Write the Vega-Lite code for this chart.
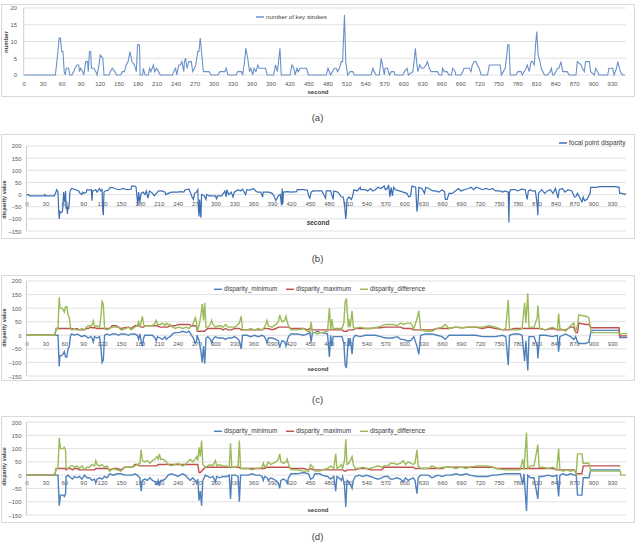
{
  "$schema": "https://vega.github.io/schema/vega-lite/v6.json",
  "background": "white",
  "padding": {"left": 0, "top": 3, "right": 0, "bottom": 0},
  "spacing": 10,
  "config": {
    "font": "Liberation Sans",
    "view": {"stroke": "#d9d9d9", "strokeWidth": 1},
    "axis": {"labelColor": "#595959", "titleColor": "#404040", "labelFontSize": 5.8, "grid": false, "ticks": false, "tickSize": 0, "domain": false, "labelFlush": false, "labelOverlap": false},
    "legend": {"labelColor": "#404040", "labelFontSize": 6.5, "padding": 0, "labelOffset": 1, "symbolType": "stroke", "symbolSize": 64, "symbolStrokeWidth": 1.5}
  },
  "resolve": {"scale": {"x": "independent", "y": "independent", "color": "independent"}},
  "datasets": {
    "gA": [{"g": 0}, {"g": 5}, {"g": 10}, {"g": 15}, {"g": 20}],
    "gD": [{"g": -150}, {"g": -100}, {"g": -50}, {"g": 0}, {"g": 50}, {"g": 100}, {"g": 150}, {"g": 200}],
    "ks": [
      {"t":0,"v":0},{"t":50,"v":0},{"t":53,"v":5},{"t":56,"v":11},{"t":58,"v":11},{"t":60,"v":7},{"t":62,"v":7},{"t":64,"v":1},{"t":66,"v":0},{"t":67,"v":2},{"t":71,"v":2},{"t":73,"v":0},{"t":76,"v":0},{"t":79,"v":1},{"t":81,"v":2},{"t":84,"v":3},{"t":87,"v":3},{"t":88,"v":1},{"t":90,"v":2},{"t":93,"v":1},{"t":95,"v":0},{"t":98,"v":4},{"t":101,"v":4},{"t":102,"v":1},{"t":104,"v":7},{"t":106,"v":7},{"t":107,"v":2},{"t":111,"v":2},{"t":114,"v":1},{"t":116,"v":0},{"t":119,"v":3},{"t":121,"v":6},{"t":125,"v":5},{"t":127,"v":0},{"t":135,"v":0},{"t":137,"v":1},{"t":140,"v":2},{"t":144,"v":1},{"t":147,"v":0},{"t":153,"v":0},{"t":156,"v":1},{"t":159,"v":1},{"t":162,"v":3},{"t":165,"v":4},{"t":168,"v":7},{"t":171,"v":4},{"t":175,"v":3},{"t":178,"v":1},{"t":180,"v":9},{"t":183,"v":9},{"t":184,"v":0},{"t":188,"v":0},{"t":189,"v":2},{"t":192,"v":0},{"t":197,"v":0},{"t":199,"v":2},{"t":201,"v":1},{"t":203,"v":2},{"t":205,"v":3},{"t":207,"v":1},{"t":210,"v":2},{"t":213,"v":1},{"t":216,"v":0},{"t":235,"v":0},{"t":237,"v":1},{"t":240,"v":2},{"t":242,"v":0},{"t":245,"v":3},{"t":248,"v":3},{"t":250,"v":4},{"t":253,"v":1},{"t":254,"v":4},{"t":256,"v":5},{"t":258,"v":2},{"t":261,"v":4},{"t":265,"v":4},{"t":267,"v":1},{"t":270,"v":2},{"t":272,"v":3},{"t":275,"v":7},{"t":277,"v":7},{"t":279,"v":11},{"t":281,"v":7},{"t":284,"v":1},{"t":289,"v":1},{"t":293,"v":1},{"t":296,"v":0},{"t":307,"v":0},{"t":310,"v":1},{"t":318,"v":1},{"t":320,"v":2},{"t":323,"v":0},{"t":336,"v":0},{"t":338,"v":1},{"t":344,"v":1},{"t":346,"v":0},{"t":349,"v":4},{"t":351,"v":8},{"t":354,"v":5},{"t":357,"v":1},{"t":359,"v":2},{"t":362,"v":0},{"t":364,"v":2},{"t":367,"v":1},{"t":370,"v":3},{"t":372,"v":2},{"t":379,"v":2},{"t":382,"v":2},{"t":385,"v":0},{"t":395,"v":0},{"t":398,"v":3},{"t":401,"v":1},{"t":405,"v":8},{"t":407,"v":0},{"t":421,"v":0},{"t":424,"v":3},{"t":427,"v":2},{"t":429,"v":0},{"t":432,"v":2},{"t":434,"v":1},{"t":437,"v":2},{"t":447,"v":2},{"t":450,"v":0},{"t":470,"v":0},{"t":478,"v":0},{"t":481,"v":2},{"t":485,"v":0},{"t":488,"v":1},{"t":491,"v":2},{"t":494,"v":2},{"t":496,"v":1},{"t":499,"v":2},{"t":502,"v":4},{"t":504,"v":4},{"t":507,"v":18},{"t":509,"v":4},{"t":512,"v":0},{"t":516,"v":1},{"t":520,"v":1},{"t":523,"v":0},{"t":549,"v":0},{"t":552,"v":2},{"t":554,"v":1},{"t":557,"v":0},{"t":562,"v":0},{"t":565,"v":5},{"t":567,"v":3},{"t":570,"v":0},{"t":571,"v":2},{"t":575,"v":2},{"t":578,"v":0},{"t":581,"v":1},{"t":585,"v":1},{"t":587,"v":0},{"t":599,"v":0},{"t":602,"v":1},{"t":606,"v":2},{"t":608,"v":0},{"t":615,"v":1},{"t":617,"v":4},{"t":619,"v":8},{"t":621,"v":4},{"t":623,"v":1},{"t":626,"v":3},{"t":629,"v":2},{"t":632,"v":2},{"t":636,"v":3},{"t":638,"v":4},{"t":641,"v":2},{"t":644,"v":1},{"t":654,"v":1},{"t":657,"v":0},{"t":661,"v":0},{"t":662,"v":2},{"t":665,"v":1},{"t":669,"v":1},{"t":672,"v":0},{"t":676,"v":0},{"t":678,"v":2},{"t":682,"v":1},{"t":683,"v":0},{"t":691,"v":0},{"t":694,"v":1},{"t":696,"v":2},{"t":704,"v":2},{"t":707,"v":1},{"t":709,"v":3},{"t":712,"v":4},{"t":715,"v":4},{"t":717,"v":3},{"t":720,"v":2},{"t":723,"v":0},{"t":733,"v":0},{"t":736,"v":3},{"t":749,"v":3},{"t":753,"v":3},{"t":755,"v":0},{"t":758,"v":1},{"t":761,"v":2},{"t":763,"v":5},{"t":765,"v":9},{"t":767,"v":9},{"t":769,"v":0},{"t":778,"v":0},{"t":781,"v":1},{"t":786,"v":1},{"t":788,"v":0},{"t":794,"v":2},{"t":796,"v":3},{"t":799,"v":1},{"t":802,"v":4},{"t":804,"v":4},{"t":807,"v":3},{"t":809,"v":9},{"t":811,"v":13},{"t":813,"v":6},{"t":816,"v":4},{"t":818,"v":2},{"t":823,"v":0},{"t":828,"v":0},{"t":832,"v":1},{"t":834,"v":2},{"t":836,"v":0},{"t":838,"v":0},{"t":841,"v":1},{"t":844,"v":2},{"t":846,"v":2},{"t":849,"v":4},{"t":852,"v":1},{"t":859,"v":1},{"t":862,"v":0},{"t":873,"v":0},{"t":875,"v":4},{"t":881,"v":3},{"t":883,"v":2},{"t":886,"v":1},{"t":888,"v":4},{"t":894,"v":4},{"t":896,"v":1},{"t":902,"v":0},{"t":904,"v":2},{"t":907,"v":1},{"t":909,"v":0},{"t":923,"v":0},{"t":925,"v":2},{"t":931,"v":2},{"t":933,"v":0},{"t":937,"v":2},{"t":939,"v":4},{"t":943,"v":1},{"t":946,"v":0},{"t":950,"v":0}
    ],
    "fpd": [
      {"t":0,"v":0},{"t":3,"v":0},{"t":5,"v":-5},{"t":28,"v":-5},{"t":29,"v":0},{"t":30,"v":-5},{"t":44,"v":-5},{"t":46,"v":5},{"t":48,"v":20},{"t":50,"v":10},{"t":51,"v":-60},{"t":52,"v":-100},{"t":53,"v":-70},{"t":55,"v":-75},{"t":57,"v":-70},{"t":58,"v":-40},{"t":59,"v":10},{"t":60,"v":-20},{"t":61,"v":-30},{"t":62,"v":15},{"t":63,"v":-60},{"t":64,"v":-45},{"t":65,"v":-80},{"t":66,"v":-50},{"t":67,"v":-60},{"t":68,"v":-30},{"t":69,"v":10},{"t":70,"v":20},{"t":72,"v":25},{"t":78,"v":20},{"t":83,"v":15},{"t":85,"v":5},{"t":88,"v":0},{"t":89,"v":10},{"t":92,"v":5},{"t":95,"v":10},{"t":96,"v":20},{"t":100,"v":18},{"t":103,"v":20},{"t":104,"v":-25},{"t":105,"v":15},{"t":110,"v":20},{"t":112,"v":10},{"t":116,"v":25},{"t":118,"v":15},{"t":120,"v":20},{"t":121,"v":-60},{"t":122,"v":-85},{"t":123,"v":10},{"t":125,"v":15},{"t":130,"v":18},{"t":133,"v":30},{"t":138,"v":28},{"t":140,"v":25},{"t":146,"v":20},{"t":150,"v":22},{"t":153,"v":25},{"t":160,"v":20},{"t":166,"v":22},{"t":167,"v":35},{"t":172,"v":35},{"t":174,"v":30},{"t":175,"v":0},{"t":177,"v":-45},{"t":178,"v":10},{"t":180,"v":-30},{"t":182,"v":5},{"t":185,"v":10},{"t":188,"v":0},{"t":190,"v":15},{"t":193,"v":-15},{"t":195,"v":15},{"t":198,"v":10},{"t":200,"v":5},{"t":203,"v":-5},{"t":206,"v":5},{"t":210,"v":15},{"t":215,"v":15},{"t":220,"v":10},{"t":221,"v":0},{"t":225,"v":5},{"t":230,"v":10},{"t":240,"v":10},{"t":245,"v":12},{"t":250,"v":10},{"t":252,"v":20},{"t":258,"v":22},{"t":260,"v":10},{"t":263,"v":-10},{"t":265,"v":-20},{"t":267,"v":5},{"t":270,"v":10},{"t":272,"v":20},{"t":273,"v":-60},{"t":274,"v":-90},{"t":275,"v":-20},{"t":276,"v":-70},{"t":277,"v":-95},{"t":278,"v":0},{"t":282,"v":-5},{"t":285,"v":-20},{"t":286,"v":0},{"t":290,"v":-5},{"t":300,"v":-5},{"t":302,"v":-20},{"t":303,"v":-5},{"t":310,"v":-5},{"t":315,"v":15},{"t":317,"v":-10},{"t":318,"v":20},{"t":321,"v":0},{"t":325,"v":10},{"t":328,"v":-10},{"t":330,"v":10},{"t":336,"v":20},{"t":340,"v":15},{"t":343,"v":22},{"t":348,"v":0},{"t":350,"v":20},{"t":355,"v":18},{"t":360,"v":25},{"t":364,"v":15},{"t":367,"v":10},{"t":372,"v":10},{"t":375,"v":-10},{"t":376,"v":10},{"t":385,"v":10},{"t":390,"v":5},{"t":393,"v":-5},{"t":396,"v":-25},{"t":398,"v":-15},{"t":400,"v":-5},{"t":403,"v":0},{"t":405,"v":-45},{"t":406,"v":25},{"t":407,"v":-40},{"t":408,"v":10},{"t":415,"v":12},{"t":420,"v":10},{"t":429,"v":12},{"t":430,"v":20},{"t":440,"v":20},{"t":446,"v":18},{"t":448,"v":-5},{"t":450,"v":-15},{"t":452,"v":10},{"t":455,"v":15},{"t":462,"v":15},{"t":469,"v":15},{"t":475,"v":-15},{"t":476,"v":15},{"t":483,"v":15},{"t":487,"v":-20},{"t":488,"v":15},{"t":494,"v":10},{"t":496,"v":5},{"t":500,"v":-10},{"t":503,"v":-10},{"t":505,"v":-40},{"t":507,"v":-100},{"t":508,"v":-70},{"t":509,"v":-20},{"t":512,"v":-10},{"t":516,"v":-20},{"t":518,"v":-5},{"t":520,"v":20},{"t":525,"v":15},{"t":530,"v":30},{"t":531,"v":20},{"t":538,"v":20},{"t":542,"v":15},{"t":546,"v":25},{"t":550,"v":15},{"t":554,"v":20},{"t":558,"v":30},{"t":563,"v":25},{"t":568,"v":35},{"t":570,"v":20},{"t":573,"v":25},{"t":575,"v":40},{"t":577,"v":-10},{"t":579,"v":30},{"t":581,"v":-5},{"t":583,"v":30},{"t":586,"v":20},{"t":592,"v":15},{"t":598,"v":10},{"t":604,"v":5},{"t":607,"v":-10},{"t":610,"v":-5},{"t":612,"v":35},{"t":618,"v":30},{"t":620,"v":-70},{"t":622,"v":-20},{"t":623,"v":30},{"t":628,"v":25},{"t":632,"v":5},{"t":634,"v":30},{"t":639,"v":25},{"t":645,"v":15},{"t":650,"v":15},{"t":655,"v":10},{"t":660,"v":20},{"t":664,"v":10},{"t":665,"v":-20},{"t":668,"v":-20},{"t":671,"v":5},{"t":676,"v":5},{"t":681,"v":15},{"t":686,"v":25},{"t":690,"v":15},{"t":695,"v":20},{"t":702,"v":25},{"t":706,"v":30},{"t":710,"v":20},{"t":714,"v":30},{"t":720,"v":25},{"t":724,"v":20},{"t":730,"v":25},{"t":735,"v":20},{"t":740,"v":25},{"t":745,"v":15},{"t":752,"v":15},{"t":756,"v":10},{"t":760,"v":15},{"t":765,"v":10},{"t":766,"v":-115},{"t":767,"v":10},{"t":769,"v":20},{"t":776,"v":20},{"t":780,"v":15},{"t":786,"v":22},{"t":792,"v":20},{"t":795,"v":-20},{"t":797,"v":15},{"t":800,"v":20},{"t":803,"v":15},{"t":808,"v":15},{"t":811,"v":-40},{"t":812,"v":-85},{"t":813,"v":5},{"t":818,"v":20},{"t":823,"v":5},{"t":827,"v":15},{"t":832,"v":20},{"t":836,"v":5},{"t":840,"v":25},{"t":844,"v":-15},{"t":846,"v":20},{"t":851,"v":25},{"t":855,"v":10},{"t":860,"v":20},{"t":866,"v":15},{"t":870,"v":-10},{"t":872,"v":-10},{"t":875,"v":5},{"t":878,"v":-10},{"t":882,"v":-30},{"t":884,"v":-10},{"t":886,"v":-25},{"t":890,"v":-20},{"t":893,"v":-5},{"t":895,"v":5},{"t":896,"v":30},{"t":905,"v":30},{"t":910,"v":33},{"t":935,"v":33},{"t":941,"v":30},{"t":942,"v":5},{"t":946,"v":5},{"t":950,"v":0},{"t":952,"v":5}
    ],
    "dc": [
      {"t":0,"mn":0,"mx":0,"df":0},{"t":45,"mn":0,"mx":0,"df":0},{"t":47,"mn":0,"mx":25,"df":25},{"t":50,"mn":0,"mx":25,"df":25},{"t":51,"mn":-60,"mx":25,"df":85},{"t":52,"mn":-115,"mx":25,"df":140},{"t":53,"mn":-75,"mx":25,"df":100},{"t":56,"mn":-75,"mx":25,"df":100},{"t":58,"mn":-70,"mx":25,"df":95},{"t":60,"mn":-60,"mx":25,"df":85},{"t":62,"mn":-80,"mx":25,"df":105},{"t":64,"mn":-80,"mx":25,"df":105},{"t":66,"mn":-50,"mx":25,"df":75},{"t":68,"mn":-40,"mx":25,"df":65},{"t":70,"mn":0,"mx":25,"df":25},{"t":72,"mn":5,"mx":25,"df":20},{"t":76,"mn":0,"mx":22,"df":22},{"t":80,"mn":5,"mx":25,"df":20},{"t":84,"mn":0,"mx":20,"df":20},{"t":88,"mn":-5,"mx":20,"df":25},{"t":92,"mn":0,"mx":20,"df":20},{"t":95,"mn":-5,"mx":25,"df":30},{"t":98,"mn":-10,"mx":25,"df":35},{"t":102,"mn":-5,"mx":30,"df":35},{"t":104,"mn":-10,"mx":28,"df":38},{"t":106,"mn":-25,"mx":28,"df":53},{"t":108,"mn":-5,"mx":28,"df":33},{"t":112,"mn":-10,"mx":25,"df":35},{"t":116,"mn":-5,"mx":25,"df":30},{"t":118,"mn":-40,"mx":25,"df":65},{"t":120,"mn":-100,"mx":25,"df":125},{"t":122,"mn":-90,"mx":25,"df":115},{"t":124,"mn":0,"mx":25,"df":25},{"t":128,"mn":5,"mx":25,"df":20},{"t":132,"mn":0,"mx":25,"df":25},{"t":136,"mn":5,"mx":35,"df":30},{"t":142,"mn":5,"mx":35,"df":30},{"t":146,"mn":0,"mx":30,"df":30},{"t":150,"mn":5,"mx":25,"df":20},{"t":156,"mn":5,"mx":28,"df":23},{"t":162,"mn":0,"mx":30,"df":30},{"t":166,"mn":5,"mx":25,"df":20},{"t":172,"mn":5,"mx":35,"df":30},{"t":176,"mn":0,"mx":35,"df":35},{"t":178,"mn":-15,"mx":35,"df":50},{"t":180,"mn":5,"mx":35,"df":30},{"t":182,"mn":-20,"mx":30,"df":50},{"t":184,"mn":-40,"mx":30,"df":70},{"t":186,"mn":-10,"mx":30,"df":40},{"t":188,"mn":0,"mx":35,"df":35},{"t":194,"mn":0,"mx":35,"df":35},{"t":200,"mn":0,"mx":35,"df":35},{"t":204,"mn":-10,"mx":35,"df":45},{"t":206,"mn":-20,"mx":35,"df":55},{"t":208,"mn":-5,"mx":35,"df":40},{"t":212,"mn":-10,"mx":30,"df":40},{"t":216,"mn":-15,"mx":30,"df":45},{"t":220,"mn":-5,"mx":30,"df":35},{"t":222,"mn":-15,"mx":30,"df":45},{"t":224,"mn":-10,"mx":30,"df":40},{"t":228,"mn":-5,"mx":35,"df":40},{"t":232,"mn":5,"mx":35,"df":30},{"t":236,"mn":10,"mx":35,"df":25},{"t":242,"mn":10,"mx":40,"df":30},{"t":248,"mn":15,"mx":40,"df":25},{"t":254,"mn":10,"mx":40,"df":30},{"t":258,"mn":15,"mx":40,"df":25},{"t":262,"mn":0,"mx":35,"df":35},{"t":265,"mn":-10,"mx":35,"df":45},{"t":268,"mn":-30,"mx":35,"df":65},{"t":270,"mn":-20,"mx":30,"df":50},{"t":271,"mn":0,"mx":15,"df":15},{"t":274,"mn":-20,"mx":15,"df":35},{"t":277,"mn":-60,"mx":15,"df":75},{"t":279,"mn":-100,"mx":15,"df":115},{"t":281,"mn":-40,"mx":15,"df":55},{"t":283,"mn":-105,"mx":15,"df":120},{"t":285,"mn":-10,"mx":20,"df":30},{"t":288,"mn":-5,"mx":25,"df":30},{"t":292,"mn":-15,"mx":25,"df":40},{"t":294,"mn":-30,"mx":25,"df":55},{"t":296,"mn":-15,"mx":25,"df":40},{"t":300,"mn":-5,"mx":25,"df":30},{"t":304,"mn":-10,"mx":25,"df":35},{"t":308,"mn":-10,"mx":25,"df":35},{"t":312,"mn":-10,"mx":20,"df":30},{"t":316,"mn":-15,"mx":25,"df":40},{"t":320,"mn":-10,"mx":20,"df":30},{"t":326,"mn":-10,"mx":20,"df":30},{"t":330,"mn":-5,"mx":25,"df":30},{"t":334,"mn":-10,"mx":25,"df":35},{"t":338,"mn":-20,"mx":25,"df":45},{"t":341,"mn":-50,"mx":20,"df":70},{"t":343,"mn":0,"mx":20,"df":20},{"t":350,"mn":0,"mx":20,"df":20},{"t":356,"mn":-5,"mx":20,"df":25},{"t":362,"mn":0,"mx":20,"df":20},{"t":368,"mn":-5,"mx":20,"df":25},{"t":374,"mn":0,"mx":20,"df":20},{"t":378,"mn":-5,"mx":25,"df":30},{"t":380,"mn":-15,"mx":25,"df":40},{"t":382,"mn":-30,"mx":25,"df":55},{"t":384,"mn":-10,"mx":25,"df":35},{"t":390,"mn":-10,"mx":20,"df":30},{"t":396,"mn":-15,"mx":25,"df":40},{"t":400,"mn":-20,"mx":30,"df":50},{"t":402,"mn":-45,"mx":30,"df":75},{"t":404,"mn":-30,"mx":30,"df":60},{"t":406,"mn":-20,"mx":30,"df":50},{"t":410,"mn":-25,"mx":30,"df":55},{"t":412,"mn":-40,"mx":30,"df":70},{"t":414,"mn":-20,"mx":30,"df":50},{"t":416,"mn":-5,"mx":30,"df":35},{"t":420,"mn":5,"mx":25,"df":20},{"t":430,"mn":5,"mx":25,"df":20},{"t":440,"mn":0,"mx":25,"df":25},{"t":446,"mn":5,"mx":20,"df":15},{"t":450,"mn":10,"mx":25,"df":15},{"t":452,"mn":-25,"mx":25,"df":50},{"t":454,"mn":10,"mx":20,"df":10},{"t":458,"mn":10,"mx":20,"df":10},{"t":462,"mn":15,"mx":20,"df":5},{"t":466,"mn":10,"mx":20,"df":10},{"t":469,"mn":10,"mx":20,"df":10},{"t":478,"mn":5,"mx":20,"df":15},{"t":481,"mn":-80,"mx":20,"df":100},{"t":483,"mn":0,"mx":20,"df":20},{"t":485,"mn":-40,"mx":20,"df":60},{"t":487,"mn":-5,"mx":20,"df":25},{"t":501,"mn":-5,"mx":20,"df":25},{"t":504,"mn":-30,"mx":15,"df":45},{"t":506,"mn":-110,"mx":15,"df":125},{"t":508,"mn":-120,"mx":15,"df":135},{"t":509,"mn":-85,"mx":15,"df":100},{"t":511,"mn":-10,"mx":20,"df":30},{"t":512,"mn":-40,"mx":20,"df":60},{"t":514,"mn":-10,"mx":20,"df":30},{"t":517,"mn":-70,"mx":20,"df":90},{"t":519,"mn":-10,"mx":20,"df":30},{"t":522,"mn":0,"mx":25,"df":25},{"t":530,"mn":-5,"mx":25,"df":30},{"t":538,"mn":0,"mx":25,"df":25},{"t":546,"mn":0,"mx":25,"df":25},{"t":554,"mn":0,"mx":28,"df":28},{"t":562,"mn":-5,"mx":28,"df":33},{"t":570,"mn":-10,"mx":30,"df":40},{"t":581,"mn":-10,"mx":30,"df":40},{"t":589,"mn":-5,"mx":30,"df":35},{"t":594,"mn":-15,"mx":30,"df":45},{"t":599,"mn":-15,"mx":25,"df":40},{"t":604,"mn":-20,"mx":25,"df":45},{"t":610,"mn":-20,"mx":25,"df":45},{"t":615,"mn":-5,"mx":20,"df":25},{"t":620,"mn":-40,"mx":20,"df":60},{"t":623,"mn":-70,"mx":20,"df":90},{"t":626,"mn":0,"mx":20,"df":20},{"t":634,"mn":5,"mx":20,"df":15},{"t":644,"mn":5,"mx":20,"df":15},{"t":652,"mn":0,"mx":25,"df":25},{"t":660,"mn":-5,"mx":25,"df":30},{"t":665,"mn":-15,"mx":25,"df":40},{"t":671,"mn":0,"mx":25,"df":25},{"t":681,"mn":0,"mx":30,"df":30},{"t":692,"mn":0,"mx":28,"df":28},{"t":702,"mn":0,"mx":30,"df":30},{"t":713,"mn":0,"mx":30,"df":30},{"t":724,"mn":-5,"mx":25,"df":30},{"t":734,"mn":-5,"mx":30,"df":35},{"t":745,"mn":-5,"mx":25,"df":30},{"t":756,"mn":0,"mx":20,"df":20},{"t":761,"mn":-5,"mx":20,"df":25},{"t":765,"mn":-110,"mx":20,"df":130},{"t":767,"mn":0,"mx":20,"df":20},{"t":774,"mn":5,"mx":25,"df":20},{"t":782,"mn":5,"mx":25,"df":20},{"t":787,"mn":0,"mx":25,"df":25},{"t":791,"mn":-95,"mx":25,"df":120},{"t":793,"mn":-20,"mx":25,"df":45},{"t":796,"mn":-130,"mx":25,"df":155},{"t":798,"mn":-5,"mx":25,"df":30},{"t":806,"mn":-5,"mx":25,"df":30},{"t":811,"mn":-40,"mx":25,"df":65},{"t":812,"mn":-85,"mx":25,"df":110},{"t":815,"mn":0,"mx":25,"df":25},{"t":824,"mn":0,"mx":20,"df":20},{"t":835,"mn":-5,"mx":25,"df":30},{"t":843,"mn":0,"mx":20,"df":20},{"t":845,"mn":-60,"mx":20,"df":80},{"t":847,"mn":-5,"mx":20,"df":25},{"t":856,"mn":5,"mx":20,"df":15},{"t":864,"mn":-5,"mx":30,"df":35},{"t":869,"mn":-15,"mx":30,"df":45},{"t":872,"mn":-5,"mx":10,"df":15},{"t":875,"mn":-25,"mx":10,"df":35},{"t":877,"mn":-30,"mx":45,"df":75},{"t":888,"mn":-30,"mx":40,"df":70},{"t":893,"mn":-25,"mx":40,"df":65},{"t":896,"mn":10,"mx":30,"df":20},{"t":898,"mn":18,"mx":28,"df":10},{"t":941,"mn":18,"mx":28,"df":10},{"t":942,"mn":-8,"mx":-2,"df":6},{"t":954,"mn":-8,"mx":-2,"df":6}
    ],
    "dd": [
      {"t":0,"mn":0,"mx":0,"df":0},{"t":45,"mn":0,"mx":0,"df":0},{"t":47,"mn":0,"mx":25,"df":25},{"t":50,"mn":0,"mx":25,"df":25},{"t":52,"mn":-115,"mx":25,"df":140},{"t":54,"mn":-75,"mx":25,"df":100},{"t":58,"mn":-75,"mx":25,"df":100},{"t":60,"mn":-80,"mx":25,"df":105},{"t":62,"mn":-70,"mx":25,"df":95},{"t":63,"mn":-5,"mx":20,"df":25},{"t":66,"mn":0,"mx":25,"df":25},{"t":70,"mn":-10,"mx":25,"df":35},{"t":73,"mn":-15,"mx":20,"df":35},{"t":76,"mn":-5,"mx":25,"df":30},{"t":80,"mn":-10,"mx":25,"df":35},{"t":84,"mn":-5,"mx":20,"df":25},{"t":88,"mn":-15,"mx":20,"df":35},{"t":92,"mn":0,"mx":20,"df":20},{"t":96,"mn":-10,"mx":20,"df":30},{"t":100,"mn":-10,"mx":20,"df":30},{"t":104,"mn":-20,"mx":20,"df":40},{"t":108,"mn":-15,"mx":20,"df":35},{"t":110,"mn":-30,"mx":25,"df":55},{"t":112,"mn":-15,"mx":25,"df":40},{"t":116,"mn":-10,"mx":25,"df":35},{"t":120,"mn":-15,"mx":25,"df":40},{"t":124,"mn":-5,"mx":25,"df":30},{"t":128,"mn":-10,"mx":25,"df":35},{"t":132,"mn":5,"mx":20,"df":15},{"t":138,"mn":0,"mx":25,"df":25},{"t":144,"mn":5,"mx":25,"df":20},{"t":150,"mn":5,"mx":20,"df":15},{"t":156,"mn":0,"mx":30,"df":30},{"t":162,"mn":0,"mx":30,"df":30},{"t":168,"mn":0,"mx":30,"df":30},{"t":172,"mn":5,"mx":40,"df":35},{"t":176,"mn":0,"mx":40,"df":40},{"t":180,"mn":-10,"mx":35,"df":45},{"t":182,"mn":-60,"mx":35,"df":95},{"t":184,"mn":-20,"mx":35,"df":55},{"t":188,"mn":-15,"mx":35,"df":50},{"t":192,"mn":-20,"mx":35,"df":55},{"t":196,"mn":-10,"mx":35,"df":45},{"t":200,"mn":-20,"mx":35,"df":55},{"t":204,"mn":-25,"mx":35,"df":60},{"t":207,"mn":-35,"mx":35,"df":70},{"t":209,"mn":-20,"mx":40,"df":60},{"t":211,"mn":-40,"mx":40,"df":80},{"t":213,"mn":-20,"mx":40,"df":60},{"t":216,"mn":-20,"mx":40,"df":60},{"t":220,"mn":-15,"mx":40,"df":55},{"t":225,"mn":0,"mx":40,"df":40},{"t":230,"mn":5,"mx":40,"df":35},{"t":236,"mn":0,"mx":40,"df":40},{"t":240,"mn":-5,"mx":40,"df":45},{"t":244,"mn":0,"mx":40,"df":40},{"t":248,"mn":5,"mx":40,"df":35},{"t":252,"mn":0,"mx":40,"df":40},{"t":256,"mn":-10,"mx":40,"df":50},{"t":260,"mn":-20,"mx":40,"df":60},{"t":264,"mn":-10,"mx":40,"df":50},{"t":268,"mn":-20,"mx":40,"df":60},{"t":270,"mn":-30,"mx":40,"df":70},{"t":272,"mn":-15,"mx":40,"df":55},{"t":274,"mn":-95,"mx":10,"df":105},{"t":276,"mn":-60,"mx":10,"df":70},{"t":278,"mn":-115,"mx":15,"df":130},{"t":280,"mn":-20,"mx":20,"df":40},{"t":284,"mn":0,"mx":30,"df":30},{"t":288,"mn":-5,"mx":30,"df":35},{"t":292,"mn":-10,"mx":30,"df":40},{"t":296,"mn":-5,"mx":30,"df":35},{"t":300,"mn":-25,"mx":30,"df":55},{"t":302,"mn":-5,"mx":30,"df":35},{"t":306,"mn":-10,"mx":30,"df":40},{"t":312,"mn":-5,"mx":30,"df":35},{"t":318,"mn":-5,"mx":30,"df":35},{"t":322,"mn":0,"mx":30,"df":30},{"t":324,"mn":-90,"mx":30,"df":120},{"t":326,"mn":0,"mx":30,"df":30},{"t":332,"mn":0,"mx":30,"df":30},{"t":336,"mn":-5,"mx":30,"df":35},{"t":338,"mn":-100,"mx":30,"df":130},{"t":340,"mn":0,"mx":25,"df":25},{"t":346,"mn":0,"mx":25,"df":25},{"t":352,"mn":0,"mx":25,"df":25},{"t":358,"mn":5,"mx":25,"df":20},{"t":364,"mn":0,"mx":25,"df":25},{"t":370,"mn":0,"mx":25,"df":25},{"t":374,"mn":-5,"mx":25,"df":30},{"t":376,"mn":-20,"mx":25,"df":45},{"t":378,"mn":-5,"mx":25,"df":30},{"t":382,"mn":-10,"mx":30,"df":40},{"t":384,"mn":-20,"mx":30,"df":50},{"t":388,"mn":-10,"mx":30,"df":40},{"t":392,"mn":-15,"mx":30,"df":45},{"t":396,"mn":-20,"mx":30,"df":50},{"t":400,"mn":-30,"mx":30,"df":60},{"t":402,"mn":-50,"mx":30,"df":80},{"t":404,"mn":-20,"mx":30,"df":50},{"t":408,"mn":-15,"mx":30,"df":45},{"t":412,"mn":-20,"mx":30,"df":50},{"t":414,"mn":-30,"mx":30,"df":60},{"t":416,"mn":-10,"mx":30,"df":40},{"t":420,"mn":5,"mx":25,"df":20},{"t":430,"mn":5,"mx":25,"df":20},{"t":440,"mn":10,"mx":25,"df":15},{"t":448,"mn":5,"mx":20,"df":15},{"t":451,"mn":-15,"mx":25,"df":40},{"t":455,"mn":-10,"mx":20,"df":30},{"t":458,"mn":5,"mx":20,"df":15},{"t":466,"mn":5,"mx":20,"df":15},{"t":469,"mn":0,"mx":20,"df":20},{"t":478,"mn":-5,"mx":20,"df":25},{"t":483,"mn":-15,"mx":20,"df":35},{"t":488,"mn":-5,"mx":20,"df":25},{"t":491,"mn":-60,"mx":20,"df":80},{"t":493,"mn":-5,"mx":20,"df":25},{"t":496,"mn":-10,"mx":20,"df":30},{"t":500,"mn":-20,"mx":20,"df":40},{"t":502,"mn":-5,"mx":20,"df":25},{"t":505,"mn":-40,"mx":15,"df":55},{"t":507,"mn":-120,"mx":15,"df":135},{"t":509,"mn":-20,"mx":20,"df":40},{"t":512,"mn":-25,"mx":20,"df":45},{"t":515,"mn":-40,"mx":20,"df":60},{"t":517,"mn":-50,"mx":20,"df":70},{"t":519,"mn":-20,"mx":20,"df":40},{"t":522,"mn":-5,"mx":20,"df":25},{"t":528,"mn":0,"mx":25,"df":25},{"t":534,"mn":-5,"mx":25,"df":30},{"t":540,"mn":0,"mx":25,"df":25},{"t":546,"mn":-5,"mx":20,"df":25},{"t":552,"mn":-10,"mx":20,"df":30},{"t":558,"mn":-15,"mx":20,"df":35},{"t":564,"mn":-10,"mx":20,"df":30},{"t":568,"mn":-5,"mx":30,"df":35},{"t":574,"mn":-5,"mx":30,"df":35},{"t":578,"mn":-15,"mx":30,"df":45},{"t":582,"mn":-15,"mx":30,"df":45},{"t":588,"mn":-10,"mx":30,"df":40},{"t":594,"mn":-15,"mx":30,"df":45},{"t":598,"mn":-25,"mx":30,"df":55},{"t":602,"mn":-10,"mx":30,"df":40},{"t":606,"mn":-20,"mx":30,"df":50},{"t":610,"mn":-15,"mx":30,"df":45},{"t":614,"mn":-10,"mx":30,"df":40},{"t":617,"mn":-20,"mx":25,"df":45},{"t":620,"mn":-70,"mx":25,"df":95},{"t":622,"mn":-10,"mx":25,"df":35},{"t":626,"mn":0,"mx":25,"df":25},{"t":638,"mn":0,"mx":25,"df":25},{"t":644,"mn":-10,"mx":25,"df":35},{"t":648,"mn":-5,"mx":25,"df":30},{"t":654,"mn":0,"mx":25,"df":25},{"t":660,"mn":-5,"mx":25,"df":30},{"t":666,"mn":0,"mx":30,"df":30},{"t":674,"mn":0,"mx":30,"df":30},{"t":682,"mn":5,"mx":30,"df":25},{"t":690,"mn":0,"mx":30,"df":30},{"t":698,"mn":5,"mx":30,"df":25},{"t":704,"mn":0,"mx":30,"df":30},{"t":716,"mn":-5,"mx":30,"df":35},{"t":732,"mn":-5,"mx":30,"df":35},{"t":740,"mn":0,"mx":30,"df":30},{"t":746,"mn":0,"mx":25,"df":25},{"t":760,"mn":5,"mx":25,"df":20},{"t":784,"mn":5,"mx":25,"df":20},{"t":788,"mn":-35,"mx":25,"df":60},{"t":790,"mn":5,"mx":25,"df":20},{"t":794,"mn":-135,"mx":25,"df":160},{"t":796,"mn":0,"mx":25,"df":25},{"t":800,"mn":-10,"mx":25,"df":35},{"t":806,"mn":-10,"mx":25,"df":35},{"t":812,"mn":-90,"mx":25,"df":115},{"t":814,"mn":-5,"mx":25,"df":30},{"t":820,"mn":-5,"mx":25,"df":30},{"t":828,"mn":0,"mx":25,"df":25},{"t":836,"mn":-5,"mx":25,"df":30},{"t":842,"mn":0,"mx":20,"df":20},{"t":845,"mn":-80,"mx":20,"df":100},{"t":847,"mn":0,"mx":20,"df":20},{"t":852,"mn":5,"mx":20,"df":15},{"t":858,"mn":0,"mx":20,"df":20},{"t":864,"mn":5,"mx":20,"df":15},{"t":870,"mn":0,"mx":20,"df":20},{"t":873,"mn":0,"mx":5,"df":5},{"t":875,"mn":-75,"mx":5,"df":80},{"t":882,"mn":-75,"mx":5,"df":80},{"t":884,"mn":-10,"mx":35,"df":45},{"t":893,"mn":-10,"mx":35,"df":45},{"t":896,"mn":20,"mx":35,"df":15},{"t":943,"mn":20,"mx":35,"df":15},{"t":944,"mn":null,"mx":null,"df":0},{"t":952,"mn":null,"mx":null,"df":0}
    ]
  },
  "vconcat": [
    {
      "title": {"text": "(a)", "orient": "bottom", "offset": 17, "fontSize": 9.5, "fontWeight": "normal", "color": "#404040", "anchor": "middle"},
      "width": 633,
      "height": 92,
      "resolve": {"axis": {"x": "independent", "y": "independent"}},
      "layer": [
        {
          "data": {"name": "gA"},
          "mark": {"type": "rule", "stroke": "#d9d9d9", "strokeWidth": 0.8},
          "encoding": {
            "x": {"datum": 0, "type": "quantitative", "scale": {"domain": [-35.9, 964.6], "nice": false, "zero": false}, "axis": null},
            "x2": {"datum": 952},
            "y": {"field": "g", "type": "quantitative", "scale": {"domain": [-6.27, 21.19], "nice": false, "zero": false}, "axis": null}
          }
        },
        {
          "data": {"values": [{}]},
          "mark": {"type": "rule", "stroke": "#bfbfbf", "strokeWidth": 0.8},
          "encoding": {
            "x": {"datum": 0, "type": "quantitative", "scale": {"domain": [-35.9, 964.6], "nice": false, "zero": false}, "axis": null},
            "y": {"datum": 0, "type": "quantitative", "scale": {"domain": [-6.27, 21.19], "nice": false, "zero": false}, "axis": null},
            "y2": {"datum": 20}
          }
        },
        {
          "data": {"name": "ks"},
          "mark": {"type": "line", "strokeWidth": 1.1},
          "encoding": {
            "x": {"field": "t", "type": "quantitative", "scale": {"domain": [-35.9, 964.6], "nice": false, "zero": false},
              "axis": {"values": [0,30,60,90,120,150,180,210,240,270,300,330,360,390,420,450,480,510,540,570,600,630,660,690,720,750,780,810,840,870,900,930], "offset": -21, "labelPadding": 5.5, "labelFontSize": 6, "title": "second", "titleFontSize": 6, "titleFontWeight": "bold", "titlePadding": 1.5}},
            "y": {"field": "v", "type": "quantitative", "scale": {"domain": [-6.27, 21.19], "nice": false, "zero": false},
              "axis": {"values": [0,5,10,15,20], "offset": -16.5, "labelPadding": 1, "title": "number", "titleFontSize": 6, "titleFontWeight": "bold", "titlePadding": 1.5, "titleY": 37.5}},
            "color": {"datum": "number of key strokes", "type": "nominal", "scale": {"range": ["#6a92c9"]},
              "legend": {"orient": "none", "legendX": 254, "legendY": 8, "title": null, "labelFontSize": 6.2}}
          }
        }
      ]
    },
    {
      "title": {"text": "(b)", "orient": "bottom", "offset": 16, "fontSize": 9.5, "fontWeight": "normal", "color": "#404040", "anchor": "middle"},
      "width": 633,
      "height": 104,
      "resolve": {"axis": {"x": "independent", "y": "independent"}},
      "layer": [
        {
          "data": {"name": "gD"},
          "mark": {"type": "rule", "stroke": "#d9d9d9", "strokeWidth": 0.8},
          "encoding": {
            "x": {"datum": 0, "type": "quantitative", "scale": {"domain": [-40.5, 964.7], "nice": false, "zero": false}, "axis": null},
            "x2": {"datum": 952},
            "y": {"field": "g", "type": "quantitative", "scale": {"domain": [-178.8, 249.4], "nice": false, "zero": false}, "axis": null}
          }
        },
        {
          "data": {"values": [{}]},
          "mark": {"type": "rule", "stroke": "#bfbfbf", "strokeWidth": 0.8},
          "encoding": {
            "x": {"datum": 0, "type": "quantitative", "scale": {"domain": [-40.5, 964.7], "nice": false, "zero": false}, "axis": null},
            "y": {"datum": -150, "type": "quantitative", "scale": {"domain": [-178.8, 249.4], "nice": false, "zero": false}, "axis": null},
            "y2": {"datum": 200}
          }
        },
        {
          "data": {"name": "fpd"},
          "mark": {"type": "line", "strokeWidth": 1.2},
          "encoding": {
            "x": {"field": "t", "type": "quantitative", "scale": {"domain": [-40.5, 964.7], "nice": false, "zero": false},
              "axis": {"values": [0,30,60,90,120,150,180,210,240,270,300,330,360,390,420,450,480,510,540,570,600,630,660,690,720,750,780,810,840,870,900,930], "offset": -43.4, "labelPadding": 6, "labelFontSize": 6, "title": "second", "titleFontSize": 6.5, "titleFontWeight": "bold", "titlePadding": 12.5}},
            "y": {"field": "v", "type": "quantitative", "scale": {"domain": [-178.8, 249.4], "nice": false, "zero": false},
              "axis": {"values": [-150,-100,-50,0,50,100,150,200], "offset": -21, "labelPadding": 1, "title": "disparity value", "titleFontSize": 5.5, "titleFontWeight": "bold", "titlePadding": 1.5, "titleY": 65}},
            "color": {"datum": "focal point disparity", "type": "nominal", "scale": {"range": ["#3a6fb5"]},
              "legend": {"orient": "none", "legendX": 557, "legendY": 4, "title": null, "labelFontSize": 6.6}}
          }
        }
      ]
    },
    {
      "title": {"text": "(c)", "orient": "bottom", "offset": 15, "fontSize": 9.5, "fontWeight": "normal", "color": "#404040", "anchor": "middle"},
      "width": 633,
      "height": 105,
      "resolve": {"axis": {"x": "independent", "y": "independent"}},
      "layer": [
        {
          "data": {"name": "gD"},
          "mark": {"type": "rule", "stroke": "#d9d9d9", "strokeWidth": 0.8},
          "encoding": {
            "x": {"datum": 0, "type": "quantitative", "scale": {"domain": [-40.5, 964.7], "nice": false, "zero": false}, "axis": null},
            "x2": {"datum": 952},
            "y": {"field": "g", "type": "quantitative", "scale": {"domain": [-164.7, 222.1], "nice": false, "zero": false}, "axis": null}
          }
        },
        {
          "data": {"values": [{}]},
          "mark": {"type": "rule", "stroke": "#bfbfbf", "strokeWidth": 0.8},
          "encoding": {
            "x": {"datum": 0, "type": "quantitative", "scale": {"domain": [-40.5, 964.7], "nice": false, "zero": false}, "axis": null},
            "y": {"datum": -150, "type": "quantitative", "scale": {"domain": [-164.7, 222.1], "nice": false, "zero": false}, "axis": null},
            "y2": {"datum": 200}
          }
        },
        {
          "data": {"name": "dc"},
          "transform": [{"fold": ["mn", "mx", "df"], "as": ["s", "v"]}],
          "mark": {"type": "line", "strokeWidth": 1.4},
          "encoding": {
            "x": {"field": "t", "type": "quantitative", "scale": {"domain": [-40.5, 964.7], "nice": false, "zero": false},
              "axis": {"values": [0,30,60,90,120,150,180,210,240,270,300,330,360,390,420,450,480,510,540,570,600,630,660,690,720,750,780,810,840,870,900,930], "offset": -44.7, "labelPadding": 5.4, "labelFontSize": 6, "title": "second", "titleFontSize": 6, "titleFontWeight": "bold", "titlePadding": 19}},
            "y": {"field": "v", "type": "quantitative", "scale": {"domain": [-164.7, 222.1], "nice": false, "zero": false},
              "axis": {"values": [-150,-100,-50,0,50,100,150,200], "offset": -21, "labelPadding": 1, "title": "disparity value", "titleFontSize": 5.5, "titleFontWeight": "bold", "titlePadding": 1.5, "titleY": 52}},
            "color": {"field": "s", "type": "nominal", "scale": {"domain": ["mn", "mx", "df"], "range": ["#4f81bd", "#c0504d", "#9bbb59"]},
              "legend": {"orient": "none", "legendX": 212, "legendY": 9, "title": null, "direction": "horizontal", "columnPadding": 5, "labelFontSize": 6.4,
                "labelExpr": "datum.label == 'mn' ? 'disparity_minimum' : datum.label == 'mx' ? 'disparity_maximum' : 'disparity_difference'"}}
          }
        }
      ]
    },
    {
      "title": {"text": "(d)", "orient": "bottom", "offset": 10, "fontSize": 9.5, "fontWeight": "normal", "color": "#404040", "anchor": "middle"},
      "width": 633,
      "height": 106,
      "resolve": {"axis": {"x": "independent", "y": "independent"}},
      "layer": [
        {
          "data": {"name": "gD"},
          "mark": {"type": "rule", "stroke": "#d9d9d9", "strokeWidth": 0.8},
          "encoding": {
            "x": {"datum": 0, "type": "quantitative", "scale": {"domain": [-40.5, 964.7], "nice": false, "zero": false}, "axis": null},
            "x2": {"datum": 952},
            "y": {"field": "g", "type": "quantitative", "scale": {"domain": [-176.3, 222.6], "nice": false, "zero": false}, "axis": null}
          }
        },
        {
          "data": {"values": [{}]},
          "mark": {"type": "rule", "stroke": "#bfbfbf", "strokeWidth": 0.8},
          "encoding": {
            "x": {"datum": 0, "type": "quantitative", "scale": {"domain": [-40.5, 964.7], "nice": false, "zero": false}, "axis": null},
            "y": {"datum": -150, "type": "quantitative", "scale": {"domain": [-176.3, 222.6], "nice": false, "zero": false}, "axis": null},
            "y2": {"datum": 200}
          }
        },
        {
          "data": {"name": "dd"},
          "transform": [{"fold": ["mn", "mx", "df"], "as": ["s", "v"]}],
          "mark": {"type": "line", "strokeWidth": 1.4},
          "encoding": {
            "x": {"field": "t", "type": "quantitative", "scale": {"domain": [-40.5, 964.7], "nice": false, "zero": false},
              "axis": {"values": [0,30,60,90,120,150,180,210,240,270,300,330,360,390,420,450,480,510,540,570,600,630,660,690,720,750,780,810,840,870,900,930], "offset": -46.9, "labelPadding": 4.6, "labelFontSize": 6, "title": "second", "titleFontSize": 6, "titleFontWeight": "bold", "titlePadding": 21}},
            "y": {"field": "v", "type": "quantitative", "scale": {"domain": [-176.3, 222.6], "nice": false, "zero": false},
              "axis": {"values": [-150,-100,-50,0,50,100,150,200], "offset": -21, "labelPadding": 1, "title": "disparity value", "titleFontSize": 5.5, "titleFontWeight": "bold", "titlePadding": 1.5, "titleY": 50}},
            "color": {"field": "s", "type": "nominal", "scale": {"domain": ["mn", "mx", "df"], "range": ["#4f81bd", "#c0504d", "#9bbb59"]},
              "legend": {"orient": "none", "legendX": 212, "legendY": 10, "title": null, "direction": "horizontal", "columnPadding": 5, "labelFontSize": 6.4,
                "labelExpr": "datum.label == 'mn' ? 'disparity_minimum' : datum.label == 'mx' ? 'disparity_maximum' : 'disparity_difference'"}}
          }
        }
      ]
    }
  ]
}
